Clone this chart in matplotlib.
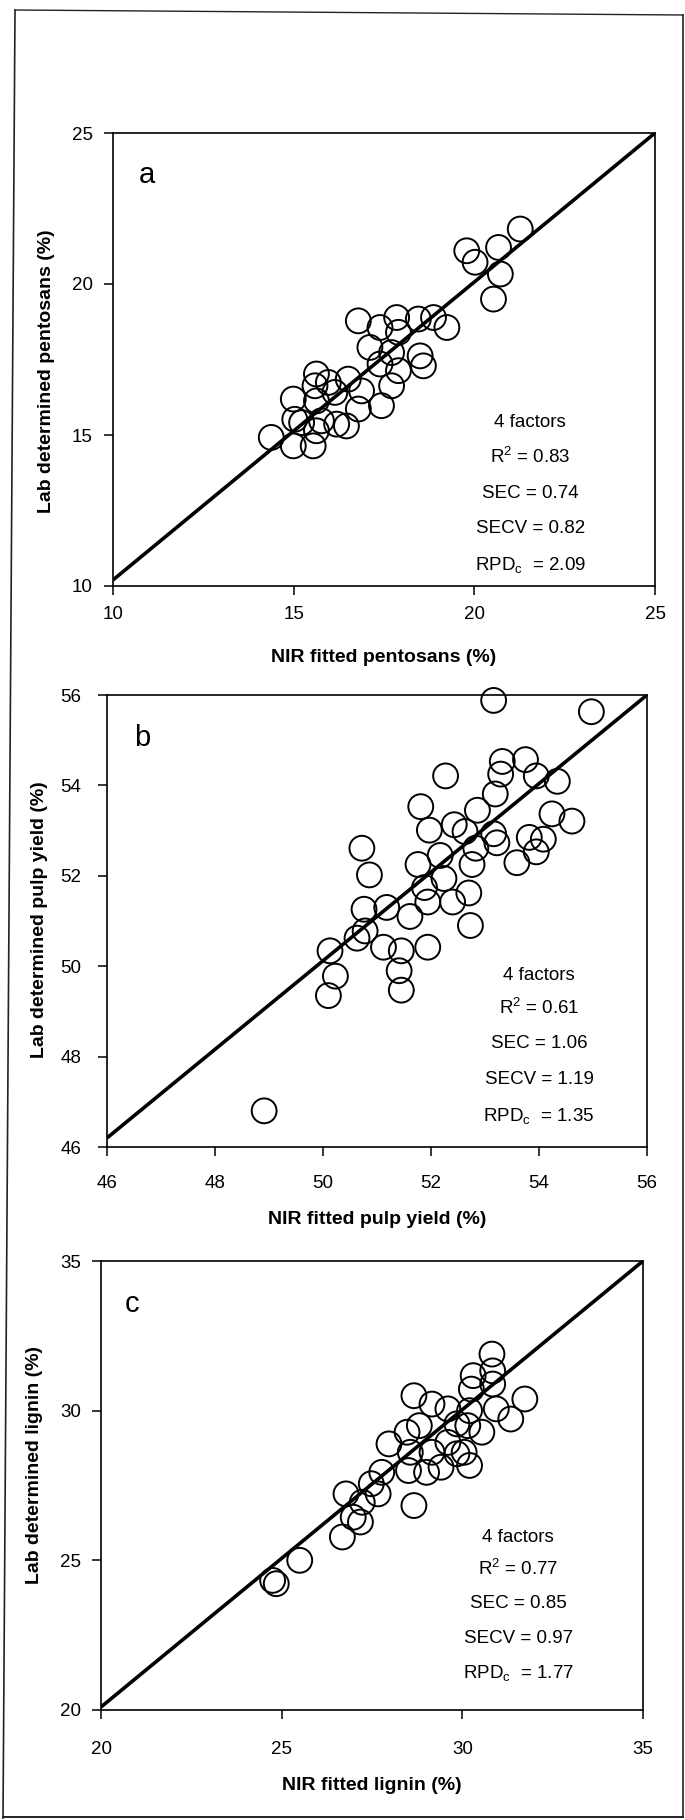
import matplotlib
matplotlib.use("Agg")
import matplotlib.pyplot as plt
from matplotlib.lines import Line2D

plt.rcParams['font.family'] = ['Liberation Sans', 'DejaVu Sans']
plt.rcParams['mathtext.fontset'] = 'custom'
plt.rcParams['mathtext.rm'] = 'Liberation Sans'
plt.rcParams['mathtext.default'] = 'regular'

# ---------------- data ----------------
# Panel a: pentosans (NIR fitted x, lab determined y)
a_x = [21.27, 19.79, 20.67, 20.02, 20.72, 20.53, 19.24,
       16.79, 17.39, 17.85, 18.45, 18.87, 17.90, 17.11, 17.71, 18.50, 18.59,
       17.39, 17.90, 15.63, 16.51, 16.88, 17.71, 15.59, 14.99, 15.63, 16.14,
       17.43, 16.79, 15.22, 15.77, 16.19, 16.46, 15.63, 14.38, 14.99, 15.54,
       15.03, 15.96]
a_y = [21.82, 21.10, 21.21, 20.72, 20.33, 19.50, 18.56,
       18.78, 18.56, 18.89, 18.84, 18.89, 18.40, 17.90, 17.73, 17.62, 17.29,
       17.35, 17.13, 17.02, 16.85, 16.46, 16.63, 16.63, 16.19, 16.13, 16.41,
       15.97, 15.86, 15.41, 15.47, 15.36, 15.30, 15.14, 14.92, 14.64, 14.64,
       15.52, 16.74]

# Panel b: pulp yield
b_x = [53.16, 54.97, 52.27, 53.32, 53.75, 53.29, 53.95, 54.34, 53.19, 51.81,
       52.86, 54.24, 54.61, 51.97, 52.43, 53.16, 53.82, 54.08, 52.83, 53.22,
       53.95, 50.72, 52.17, 53.59, 51.76, 52.76, 50.86, 51.88, 52.70, 52.40,
       51.94, 50.76, 51.18, 51.61, 50.78, 52.73, 50.13, 51.12, 51.45, 51.94,
       50.23, 51.41, 50.10, 51.45, 48.91, 52.63, 50.63, 52.24]
b_y = [55.88, 55.63, 54.21, 54.53, 54.57, 54.25, 54.21, 54.09, 53.81, 53.53,
       53.45, 53.37, 53.21, 53.01, 53.13, 52.93, 52.85, 52.81, 52.61, 52.73,
       52.53, 52.61, 52.45, 52.29, 52.25, 52.25, 52.02, 51.74, 51.62, 51.42,
       51.42, 51.26, 51.30, 51.10, 50.78, 50.90, 50.34, 50.42, 50.34, 50.42,
       49.78, 49.90, 49.35, 49.47, 46.80, 52.98, 50.62, 51.94]

# Panel c: lignin
c_x = [30.82, 30.84, 30.30, 30.25, 28.66, 31.73, 29.16, 29.60, 30.94, 31.34,
       28.81, 28.47, 29.85, 30.54, 27.97, 29.60, 28.56, 29.16, 30.20, 29.41,
       29.01, 28.51, 27.77, 26.78, 27.67, 27.23, 28.66, 26.98, 27.18, 26.68,
       25.50, 24.85, 24.75, 30.84, 30.20, 30.15, 29.85, 27.48, 30.05]
c_y = [31.89, 31.33, 31.17, 30.72, 30.50, 30.39, 30.22, 30.06, 30.06, 29.72,
       29.50, 29.28, 29.56, 29.28, 28.89, 28.94, 28.61, 28.61, 28.17, 28.11,
       27.94, 28.00, 27.94, 27.22, 27.22, 26.94, 26.83, 26.44, 26.28, 25.78,
       25.00, 24.22, 24.33, 30.89, 30.00, 29.50, 28.56, 27.56, 28.61]

# fitted lines (start, end)
a_line_x = [10, 25]
a_line_y = [10.2, 25]
b_line_x = [46, 56]
b_line_y = [46.2, 56]
c_line_x = [20, 35]
c_line_y = [20.1, 35]

a_ticks = [10, 15, 20, 25]
b_ticks = [46, 48, 50, 52, 54, 56]
c_ticks = [20, 25, 30, 35]

panels = [
    dict(x=a_x, y=a_y, lx=a_line_x, ly=a_line_y, ticks=a_ticks, lim=(10, 25),
         letter='a', xlabel='NIR fitted pentosans (%)',
         ylabel='Lab determined pentosans (%)',
         stats=['4 factors', 'R$^2$ = 0.83', 'SEC = 0.74', 'SECV = 0.82',
                'RPD$_c$  = 2.09'],
         box=(113, 133, 655, 586), xpad=8, ypad=8,
         ylab_px=(47, 371), xlab_y=657,
         stat_x=0.77, stat_y=[0.36, 0.285, 0.205, 0.128, 0.046],
         let_pos=(0.048, 0.89)),
    dict(x=b_x, y=b_y, lx=b_line_x, ly=b_line_y, ticks=b_ticks, lim=(46, 56),
         letter='b', xlabel='NIR fitted pulp yield (%)',
         ylabel='Lab determined pulp yield (%)',
         stats=['4 factors', 'R$^2$ = 0.61', 'SEC = 1.06', 'SECV = 1.19',
                'RPD$_c$  = 1.35'],
         box=(107, 695, 647, 1147), xpad=14, ypad=12,
         ylab_px=(40, 920), xlab_y=1219,
         stat_x=0.80, stat_y=[0.38, 0.308, 0.228, 0.150, 0.069],
         let_pos=(0.05, 0.887)),
    dict(x=c_x, y=c_y, lx=c_line_x, ly=c_line_y, ticks=c_ticks, lim=(20, 35),
         letter='c', xlabel='NIR fitted lignin (%)',
         ylabel='Lab determined lignin (%)',
         stats=['4 factors', 'R$^2$ = 0.77', 'SEC = 0.85', 'SECV = 0.97',
                'RPD$_c$  = 1.77'],
         box=(101, 1261, 643, 1710), xpad=16, ypad=8,
         ylab_px=(35, 1465), xlab_y=1785,
         stat_x=0.77, stat_y=[0.385, 0.314, 0.238, 0.160, 0.082],
         let_pos=(0.044, 0.886)),
]

W, H = 685, 1820
fig = plt.figure(figsize=(W / 100, H / 100), dpi=100)
fig.patch.set_facecolor('white')

for p in panels:
    l, t, r, b = p['box']
    ax = fig.add_axes([l / W, 1 - b / H, (r - l) / W, (b - t) / H])
    ax.scatter(p['x'], p['y'], s=320, facecolors='none', edgecolors='black',
               linewidths=1.4, zorder=2, clip_on=False)
    ax.plot(p['lx'], p['ly'], color='black', lw=2.6, zorder=3,
            solid_capstyle='butt')
    ax.set_xlim(*p['lim'])
    ax.set_ylim(*p['lim'])
    ax.set_xticks(p['ticks'])
    ax.set_yticks(p['ticks'])
    for s in ax.spines.values():
        s.set_linewidth(1.2)
    ax.tick_params(axis='x', direction='out', length=6.5, width=1.1,
                   labelsize=13.5, pad=p['xpad'])
    ax.tick_params(axis='y', direction='out', length=6.5, width=1.1,
                   labelsize=13.5, pad=p['ypad'])
    ax.text(p['let_pos'][0], p['let_pos'][1], p['letter'], transform=ax.transAxes,
            fontsize=21, ha='left', va='baseline')
    for txt, yy in zip(p['stats'], p['stat_y']):
        ax.text(p['stat_x'], yy, txt, transform=ax.transAxes, fontsize=13.5,
                ha='center', va='center')
    fig.text(p['ylab_px'][0] / W, 1 - p['ylab_px'][1] / H, p['ylabel'],
             rotation=90, ha='center', va='center', fontsize=14,
             fontweight='bold')
    fig.text(((l + r) / 2) / W, 1 - p['xlab_y'] / H, p['xlabel'],
             ha='center', va='center', fontsize=14, fontweight='bold')

# page frame from the scanned original
def fline(x0, y0, x1, y1, lw=1.2):
    fig.add_artist(Line2D([x0 / W, x1 / W], [1 - y0 / H, 1 - y1 / H],
                          transform=fig.transFigure, color='#222222', lw=lw))

fline(15, 10, 683, 15, 1.0)
fline(15, 10, 3, 1818, 1.2)
fline(3, 1817, 683, 1817, 1.4)
fline(683, 15, 683, 1817, 1.2)

fig.savefig('out.png', dpi=100, facecolor='white')
